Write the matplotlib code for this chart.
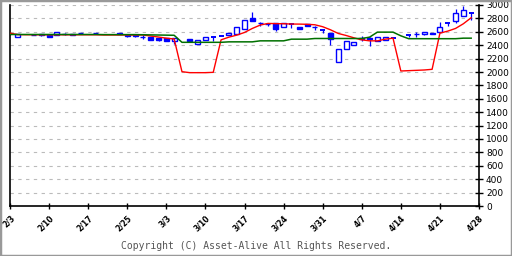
import numpy as np
import matplotlib
matplotlib.use("Agg")
import matplotlib.pyplot as plt
from matplotlib.patches import Rectangle

nan = np.nan

# daily candles (one per trading slot from 2/3); nan = nothing drawn
opens = [2565, 2527, nan, 2555, 2562, 2558, 2552, 2565, 2562, 2575,
         nan, 2580, nan, nan, 2582, 2552, 2550, 2525, 2518, 2505,
         2500, 2470, nan, 2490, 2425, 2478, 2518, 2537, 2548, 2567,
         2646, 2810, 2735, 2718, 2727, 2676, 2712, 2667, 2716, 2670,
         2627, 2582, 2154, 2343, 2403, 2503, 2500, 2468, 2478, 2510,
         nan, 2552, 2570, 2565, 2587, 2592, 2725, 2766, 2836, 2885]
highs = [2570, 2565, nan, 2560, 2565, 2560, 2600, 2585, 2565, 2580,
         nan, 2585, nan, nan, 2585, 2553, 2552, 2552, 2520, 2508,
         2503, 2512, nan, 2492, 2475, 2520, 2520, 2540, 2585, 2678,
         2778, 2896, 2750, 2736, 2730, 2728, 2715, 2669, 2718, 2693,
         2630, 2585, 2345, 2469, 2455, 2537, 2522, 2520, 2529, 2515,
         nan, 2555, 2597, 2600, 2589, 2750, 2730, 2935, 2990, 2890]
lows = [2555, 2525, nan, 2552, 2543, 2525, 2550, 2555, 2545, 2575,
        nan, 2580, nan, nan, 2565, 2528, 2528, 2487, 2475, 2470,
        2468, 2420, nan, 2443, 2420, 2476, 2468, 2535, 2546, 2565,
        2644, 2758, 2686, 2690, 2617, 2674, 2652, 2640, 2690, 2627,
        2578, 2403, 2150, 2341, 2401, 2467, 2388, 2466, 2476, 2505,
        nan, 2527, 2527, 2550, 2561, 2590, 2690, 2731, 2830, 2776]
closes = [2565, 2563, nan, 2558, 2545, 2528, 2597, 2570, 2548, 2578,
          nan, 2582, nan, nan, 2567, 2530, 2530, 2520, 2478, 2472,
          2470, 2510, nan, 2470, 2473, 2518, 2518, 2537, 2582, 2676,
          2776, 2761, 2730, 2714, 2637, 2727, 2712, 2642, 2692, 2665,
          2627, 2488, 2343, 2467, 2452, 2500, 2490, 2518, 2527, 2510,
          nan, 2552, 2565, 2595, 2563, 2676, 2725, 2885, 2925, 2885]

ma_short = [2580, 2558, 2556, 2556, 2555, 2555, 2555, 2555, 2555, 2555,
            2555, 2555, 2552, 2552, 2552, 2552, 2552, 2552, 2537, 2522,
            2505, 2493, 2005, 1990, 1990, 1990, 1995, 2480, 2520, 2550,
            2590, 2650, 2700, 2725, 2722, 2720, 2716, 2715, 2712, 2705,
            2676, 2630, 2575, 2545, 2510, 2480, 2465, 2465, 2490, 2505,
            2015, 2020, 2025, 2030, 2040, 2580, 2610, 2650, 2720, 2810]
ma_long = [2560, 2560, 2560, 2560, 2560, 2560, 2560, 2560, 2560, 2560,
           2560, 2560, 2558, 2558, 2558, 2558, 2558, 2556, 2554, 2552,
           2550, 2548, 2443, 2443, 2443, 2443, 2443, 2443, 2450, 2450,
           2450, 2450, 2465, 2465, 2465, 2465, 2490, 2490, 2490, 2500,
           2500, 2500, 2500, 2500, 2500, 2500, 2520, 2595, 2595, 2595,
           2540, 2497, 2497, 2497, 2497, 2497, 2497, 2497, 2505, 2505]

week_labels = ["2/3", "2/10", "2/17", "2/25", "3/3", "3/10", "3/17",
               "3/24", "3/31", "4/7", "4/14", "4/21", "4/28"]

fig = plt.figure(figsize=(5.12, 2.56), dpi=100)
ax = fig.add_axes([10 / 512, 50 / 256, 469 / 512, 201 / 256])

x = np.arange(len(opens))
w = 0.64
for i in x:
    o, h, l, c = opens[i], highs[i], lows[i], closes[i]
    if np.isnan(o):
        continue
    ax.vlines(i, l, h, color="#0000ff", lw=0.9, zorder=2)
    if abs(c - o) < 1:
        ax.hlines(o, i - w / 2, i + w / 2, color="#0000ff", lw=1.4, zorder=2)
    else:
        face = "white" if c > o else "#0000ff"
        ax.add_patch(Rectangle((i - w / 2, min(o, c)), w, abs(c - o),
                               facecolor=face, edgecolor="#0000ff",
                               lw=1.0, zorder=2.5))

ax.plot(x, ma_short, color="#ff0000", lw=1.0, zorder=3)
ax.plot(x, ma_long, color="#007000", lw=1.1, zorder=4)

ax.set_xlim(0, 60)
ax.set_ylim(0, 3000)
ax.set_xticks(np.arange(0, 61, 5))
ax.set_xticklabels(week_labels, rotation=45, ha="right", rotation_mode="anchor",
                   fontsize=5.5, fontweight="bold")
ax.set_yticks(np.arange(0, 3001, 200))
ax.yaxis.tick_right()
ax.tick_params(axis="y", direction="inout", length=6, width=1, labelsize=6.5, pad=2)
ax.tick_params(axis="x", direction="inout", length=5, width=1, pad=3)
ax.grid(axis="y", color="#bbbbbb", linestyle=(0, (3, 4)), lw=0.8)
for side in ["left", "bottom", "right"]:
    ax.spines[side].set_color("black")
    ax.spines[side].set_linewidth(1.2)
ax.spines["top"].set_visible(False)

fig.text(0.5, 10 / 256, "Copyright (C) Asset-Alive All Rights Reserved.",
         ha="center", va="center", fontsize=7, family="DejaVu Sans Mono",
         color="#555555")
fig.patches.append(Rectangle((0, 0), 1, 1, transform=fig.transFigure,
                             fill=False, edgecolor="#999999", lw=2.5))

fig.savefig("out.png", dpi=100)
